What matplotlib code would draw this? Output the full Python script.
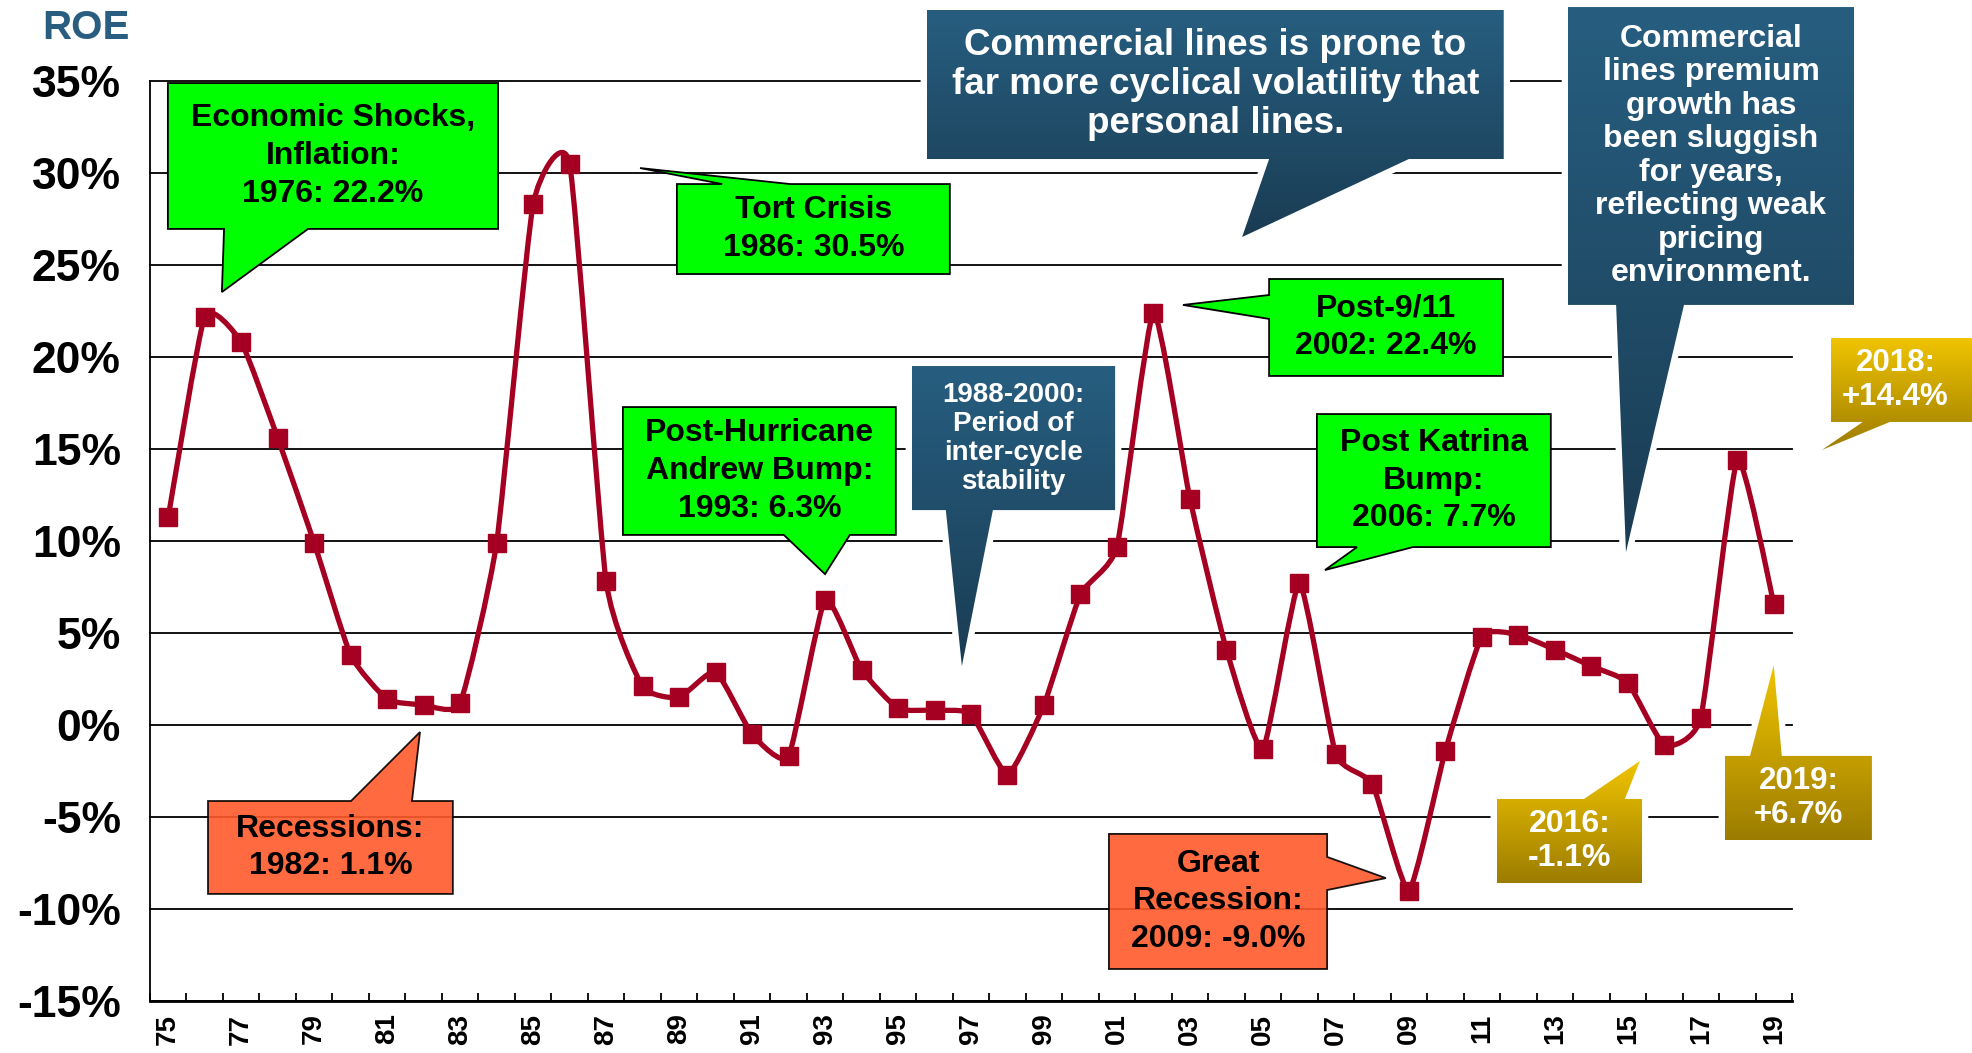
import matplotlib
matplotlib.use("Agg")
import matplotlib.pyplot as plt
import numpy as np
from matplotlib.path import Path
from matplotlib.patches import PathPatch, Polygon
from matplotlib.colors import LinearSegmentedColormap

plt.rcParams['font.family'] = ['Liberation Sans', 'DejaVu Sans']
plt.rcParams['font.weight'] = 'bold'

# dane: ROE linii komercyjnych 1975-2019
years = list(range(1975, 2020))
roe = [11.3, 22.2, 20.8, 15.6, 9.9, 3.8, 1.4, 1.1, 1.2, 9.9,
       28.3, 30.5, 7.8, 2.1, 1.5, 2.9, -0.5, -1.7, 6.8, 3.0,
       0.9, 0.8, 0.6, -2.7, 1.1, 7.1, 9.7, 22.4, 12.3, 4.1,
       -1.3, 7.7, -1.6, -3.2, -9.0, -1.4, 4.8, 4.9, 4.1, 3.2,
       2.3, -1.1, 0.4, 14.4, 6.6]
y_ticks = list(range(-15, 36, 5))
x_labels = [y for y in years if y % 2 == 1]

LINE = '#A50021'
GREEN = '#00FF00'
ORANGE = '#FF5A2B'
blue_cm = LinearSegmentedColormap.from_list('b', ['#275E80', '#1A3C53'])
gold_cm = LinearSegmentedColormap.from_list('g', ['#F0C400', '#9C7C00'])

# (tekst, styl, rozmiar, (x0, x1, y_dol, y_gora), strona, (a, b), grot)
callouts = [
    ("Economic Shocks,\nInflation:\n1976: 22.2%", 'green', 23,
     (1974.99, 1984.04, 26.96, 34.89), 'bottom', (1976.53, 1978.83), (1976.47, 23.53)),
    ("Tort Crisis\n1986: 30.5%", 'green', 23,
     (1988.94, 1996.42, 24.51, 29.40), 'top', (1990.18, 1992.04), (1987.93, 30.27)),
    ("Commercial lines is prone to\nfar more cyclical volatility that\npersonal lines.", 'blue', 26.5,
     (1995.79, 2011.60, 30.76, 38.86), 'bottom', (2005.17, 2009.00), (2004.43, 26.52)),
    ("Commercial\nlines premium\ngrowth has\nbeen sluggish\nfor years,\nreflecting weak\npricing\nenvironment.",
     'blue', 23, (2013.36, 2021.20, 22.83, 39.02), 'bottom', (2014.68, 2016.54), (2014.95, 9.40)),
    ("Post-Hurricane\nAndrew Bump:\n1993: 6.3%", 'green', 23,
     (1987.46, 1994.94, 10.33, 17.28), 'bottom', (1991.87, 1993.68), (1993.00, 8.20)),
    ("1988-2000:\nPeriod of\ninter-cycle\nstability", 'blue', 20,
     (1995.38, 2000.95, 11.68, 19.51), 'bottom', (1996.31, 1997.60), (1996.75, 3.20)),
    ("Post-9/11\n2002: 22.4%", 'green', 23,
     (2005.17, 2011.58, 18.97, 24.24), 'left', (22.07, 23.37), (2002.81, 22.83)),
    ("Post Katrina\nBump:\n2006: 7.7%", 'green', 23,
     (2006.48, 2012.89, 9.67, 16.90), 'bottom', (2007.58, 2009.11), (2006.70, 8.42)),
    ("Recessions:\n1982: 1.1%", 'orange', 23,
     (1976.09, 1982.80, -9.18, -4.13), 'top', (1980.01, 1981.68), (1981.90, -0.38)),
    ("Great\nRecession:\n2009: -9.0%", 'orange', 23,
     (2000.78, 2006.76, -13.26, -5.92), 'right', (-8.97, -7.17), (2008.37, -8.32)),
    ("2016:\n-1.1%", 'gold', 23,
     (2011.41, 2015.39, -8.59, -4.02), 'top', (2013.80, 2014.92), (2015.33, -1.96)),
    ("2019:\n+6.7%", 'gold', 22.5,
     (2017.66, 2021.69, -6.25, -1.68), 'top', (2018.35, 2019.22), (2019.00, 3.26)),
    ("2018:\n+14.4%", 'gold', 22.5,
     (2020.57, 2024.90, 16.47, 21.03), 'bottom', (2021.44, 2022.18), (2020.32, 14.95)),
]


def callout_shape(box, side, base, tip):
    x0, x1, yb, yt = box
    a, b = base
    if side == 'bottom':
        return [(x0, yt), (x1, yt), (x1, yb), (b, yb), tip, (a, yb), (x0, yb)]
    if side == 'top':
        return [(x0, yt), (a, yt), tip, (b, yt), (x1, yt), (x1, yb), (x0, yb)]
    if side == 'left':
        return [(x0, yt), (x1, yt), (x1, yb), (x0, yb), (x0, a), tip, (x0, b)]
    return [(x0, yt), (x1, yt), (x1, b), tip, (x1, a), (x1, yb), (x0, yb)]


def smooth_path(xs, ys, k=12.0):
    # wygladzona linia (Catmull-Rom jako krzywe Beziera, mniejsze napiecie)
    p = np.column_stack([xs, ys]).astype(float)
    n = len(p)
    verts = [p[0]]
    codes = [Path.MOVETO]
    for i in range(n - 1):
        p0 = p[i - 1] if i > 0 else p[i]
        p3 = p[i + 2] if i + 2 < n else p[i + 1]
        c1 = p[i] + (p[i + 1] - p0) / k
        c2 = p[i + 1] - (p3 - p[i]) / k
        verts += [c1, c2, p[i + 1]]
        codes += [Path.CURVE4] * 3
    return Path(verts, codes)


fig = plt.figure(figsize=(19.72, 10.53), dpi=100)
ax = fig.add_axes([0.07606, 0.04938, 0.83266, 0.87369])

ax.set_axisbelow(True)
ax.yaxis.grid(True, color='black', lw=1.3)
ax.set_yticks(y_ticks)
ax.set_yticklabels([f"{v}%" for v in y_ticks], fontsize=32, fontweight='bold')
ax.tick_params(axis='y', length=0, pad=21)
for gl in ax.get_ygridlines():
    gl.set_clip_on(False)

ax.set_xticks(x_labels)
ax.set_xticklabels([f"{y % 100:02d}" for y in x_labels], rotation=90, fontsize=20,
                   fontweight='bold', va='top')
ax.set_xticks([y - 0.5 for y in years] + [years[-1] + 0.5], minor=True)
ax.tick_params(axis='x', which='major', length=0, pad=9)
ax.tick_params(axis='x', which='minor', direction='in', length=6, width=1.3)

for s in ['top', 'right']:
    ax.spines[s].set_visible(False)
ax.spines['left'].set_linewidth(1.3)
ax.spines['bottom'].set_linewidth(2)

# linia danych
ax.add_patch(PathPatch(smooth_path(years, roe), fill=False, edgecolor=LINE, lw=3.8,
                       zorder=3, capstyle='round', joinstyle='round'))
ax.plot(years, roe, 's', color=LINE, markersize=13, zorder=3.5)

# dymki
for txt, style, fs, box, side, base, tip in callouts:
    verts = callout_shape(box, side, base, tip)
    ls = 1.15
    if style in ('blue', 'gold'):
        ax.add_patch(Polygon(verts, closed=True, facecolor='none', edgecolor='white',
                             lw=9, zorder=2, clip_on=False, joinstyle='round'))
        poly = Polygon(verts, closed=True, facecolor='none', edgecolor='none',
                       zorder=4, clip_on=False)
        ax.add_patch(poly)
        xs = [v[0] for v in verts]
        ys = [v[1] for v in verts]
        im = ax.imshow(np.linspace(0, 1, 256).reshape(-1, 1),
                       cmap=blue_cm if style == 'blue' else gold_cm,
                       extent=(min(xs), max(xs), min(ys), max(ys)),
                       aspect='auto', origin='upper', zorder=4, interpolation='bilinear')
        im.set_clip_box(fig.bbox)
        im.set_clip_path(poly)
        color = 'white'
    elif style == 'green':
        ax.add_patch(Polygon(verts, closed=True, facecolor=GREEN, edgecolor='black',
                             lw=1.3, zorder=4, clip_on=False))
        color = 'black'
        ls = 1.33
    else:
        ax.add_patch(Polygon(verts, closed=True, facecolor=ORANGE, edgecolor='black',
                             lw=1.3, zorder=4, clip_on=False, alpha=0.9))
        color = 'black'
        ls = 1.33
    x0, x1, yb, yt = box
    cx = (x0 + x1) / 2
    if x1 > 2024:
        # dymek 2018 wychodzi poza krawedz rysunku
        cx = (x0 + 2024.1) / 2
    ax.text(cx, (yb + yt) / 2, txt, ha='center', va='center', fontsize=fs, color=color,
            fontweight='bold', linespacing=ls, zorder=5, clip_on=False)

ax.set_xlim(1974.5, 2019.5)
ax.set_ylim(-15, 35)

fig.text(0.0213, 0.973, "ROE", fontsize=29, fontweight='bold', color='#2A5E80',
         ha='left', va='center')

fig.savefig("out.png", dpi=100)
